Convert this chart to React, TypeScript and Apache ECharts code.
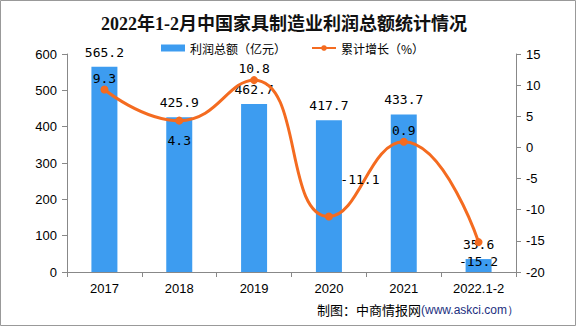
import React, { useEffect, useRef } from "react";
import * as echarts from "echarts";

const categories = ["2017", "2018", "2019", "2020", "2021", "2022.1-2"];
const profitValues = [565.2, 425.9, 462.7, 417.7, 433.7, 35.6];
const growthValues = [9.3, 4.3, 10.8, -11.1, 0.9, -15.2];
const growthLabelPos = ["top", "bottom", "top", "custom", "top", "bottom"];
const titleText = "2022年1-2月中国家具制造业利润总额统计情况";
const profitName = "利润总额（亿元）";
const growthName = "累计增长（%）";

export default function App() {
  const ref = useRef<HTMLDivElement>(null);
  useEffect(() => {
    if (!ref.current) return;
    const chart = echarts.init(ref.current, null, { renderer: "svg" });
    const labelFont = {
      fontFamily: "'DejaVu Sans Mono', monospace",
      fontSize: 13,
      color: "#000",
    };
    const lineData = growthValues.map((v, i) => {
      const pos = growthLabelPos[i];
      if (pos === "custom") {
        return {
          value: v,
          label: { position: "top", distance: 0, offset: [31, -27] },
        };
      }
      if (pos === "bottom") {
        return { value: v, label: { position: "bottom", distance: 9 } };
      }
      return { value: v, label: { position: "top", distance: 1 } };
    });
    chart.setOption({
      animation: false,
      backgroundColor: "#fff",
      title: {
        text: titleText,
        left: 96,
        top: 10,
        textStyle: {
          fontFamily: "'Liberation Serif', 'Noto Sans CJK SC', serif",
          fontSize: 18,
          fontWeight: "bold",
          color: "#111",
        },
      },
      legend: {
        left: 156,
        top: 37,
        itemWidth: 24,
        itemHeight: 7,
        itemGap: 25,
        textStyle: {
          fontFamily: "'Noto Sans CJK SC', sans-serif",
          fontSize: 12,
          color: "#000",
        },
        data: [
          { name: profitName, icon: "rect" },
          { name: growthName },
        ],
      },
      grid: { left: 67, right: 60, top: 54, bottom: 54 },
      xAxis: {
        type: "category",
        data: categories,
        boundaryGap: true,
        axisLine: { lineStyle: { color: "#888" } },
        axisTick: { show: true, alignWithLabel: false, lineStyle: { color: "#888" } },
        axisLabel: {
          color: "#000",
          fontFamily: "'Liberation Sans', Arial, sans-serif",
          fontSize: 13,
          margin: 10,
        },
      },
      yAxis: [
        {
          type: "value",
          min: 0,
          max: 600,
          interval: 100,
          splitLine: { show: false },
          axisLine: { show: true, lineStyle: { color: "#888" } },
          axisTick: { show: true, lineStyle: { color: "#888" } },
          axisLabel: {
            color: "#000",
            fontFamily: "'Liberation Sans', Arial, sans-serif",
            fontSize: 13,
            margin: 10,
          },
        },
        {
          type: "value",
          min: -20,
          max: 15,
          interval: 5,
          splitLine: { show: false },
          axisLine: { show: true, lineStyle: { color: "#888" } },
          axisTick: { show: true, lineStyle: { color: "#888" } },
          axisLabel: {
            color: "#000",
            fontFamily: "'Liberation Sans', Arial, sans-serif",
            fontSize: 13,
            margin: 10,
          },
        },
      ],
      series: [
        {
          name: profitName,
          type: "bar",
          data: profitValues,
          barWidth: 26,
          itemStyle: { color: "#3d9cf0" },
          label: { show: true, position: "top", distance: 8, ...labelFont },
          z: 2,
        },
        {
          name: growthName,
          type: "line",
          yAxisIndex: 1,
          data: lineData,
          smooth: true,
          symbol: "circle",
          symbolSize: 8,
          lineStyle: { color: "#f46b20", width: 3 },
          itemStyle: { color: "#f46b20" },
          label: { show: true, ...labelFont },
          z: 3,
        },
      ],
      graphic: [
        {
          type: "rect",
          shape: { x: 0.5, y: 0.5, width: 575, height: 325 },
          style: { fill: "none", stroke: "#999", lineWidth: 1 },
          silent: true,
        },
        {
          type: "text",
          left: 317,
          top: 303,
          style: {
            text: "{a|制图：中商情报网}{b|(www.askci.com）}",
            rich: {
              a: {
                fontFamily: "'Noto Sans CJK SC', sans-serif",
                fontSize: 13,
                fill: "#000",
              },
              b: {
                fontFamily: "'Liberation Sans', Arial, sans-serif",
                fontSize: 12,
                fill: "#1c2f80",
              },
            },
          },
        },
      ],
    });
    return () => chart.dispose();
  }, []);
  return (
    <div
      ref={ref}
      style={{ position: "absolute", left: 0, top: 0, width: 576, height: 326 }}
    />
  );
}
